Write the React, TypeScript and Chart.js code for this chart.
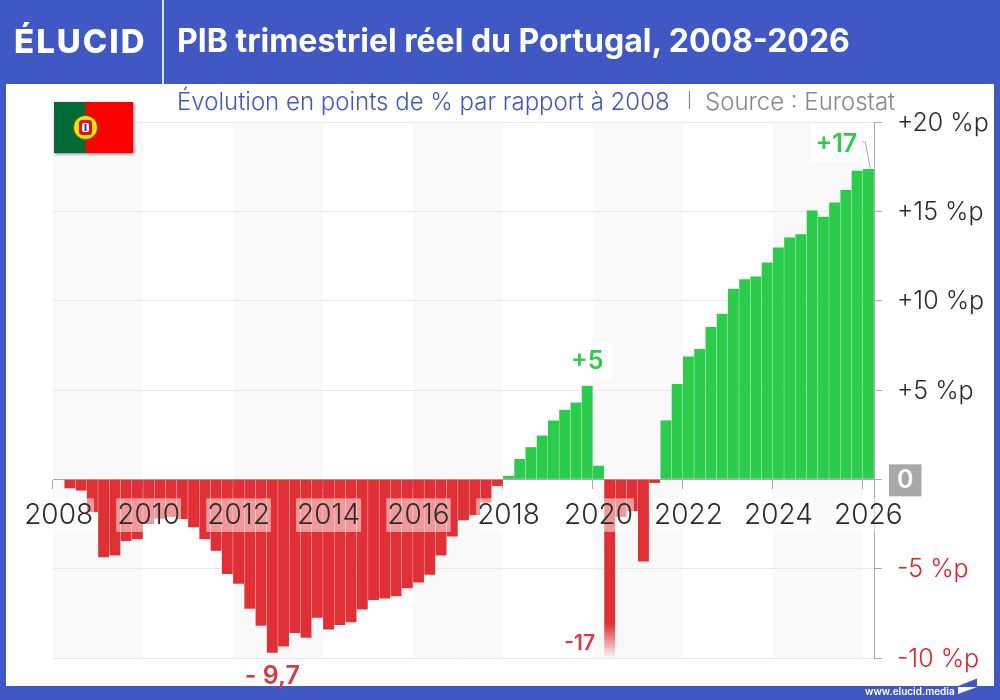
import React, { useEffect, useRef } from 'react';
import { Chart, registerables } from 'chart.js';

Chart.register(...registerables);

const FONT = 'Inter, Lato, sans-serif';
const BLUE = '#3f58c4';
const GREEN = '#2bcb4b';
const RED = '#e13035';
const GRID = '#e9e9e9';
const AXIS = '#a8a8a8';

const years = [2008, 2009, 2010, 2011, 2012, 2013, 2014, 2015, 2016, 2017, 2018, 2019, 2020, 2021, 2022, 2023, 2024, 2025, 2026];
const tickYears = [2008, 2010, 2012, 2014, 2016, 2018, 2020, 2022, 2024, 2026];
const shadedYears = [2008, 2012, 2016, 2020, 2024];

const categories = years
  .flatMap((y) => [`${y} T1`, `${y} T2`, `${y} T3`, `${y} T4`])
  .slice(0, 73);

// points de % par rapport a 2008, un trimestre par valeur
const values = [
  0, -0.5, -0.63, -1.84,
  -4.36, -4.26, -3.45, -3.35,
  -2.5, -2.2, -2.1, -2.23,
  -2.68, -3.35, -4.0, -5.3,
  -5.85, -7.24, -8.2, -9.7,
  -9.35, -8.6, -8.87, -7.75,
  -8.4, -8.15, -8.0, -7.28,
  -6.76, -6.67, -6.54, -6.09,
  -5.77, -5.34, -4.26, -3.2,
  -2.29, -2.0, -1.3, -0.37,
  0.19, 1.14, 1.8, 2.45,
  3.29, 3.89, 4.3, 5.24,
  0.76, -17, -2.1, -1.78,
  -4.6, -0.2, 3.3, 5.34,
  6.87, 7.3, 8.52, 9.27,
  10.67, 11.2, 11.35, 12.13,
  12.97, 13.53, 13.72, 15.05,
  14.7, 15.5, 16.2, 17.27,
  17.37,
];

const isYearTick = (i?: number) => {
  if (i === undefined || !categories[i]) return false;
  const [y, q] = categories[i].split(' T');
  return q === '1' && tickYears.includes(Number(y));
};

// bandes grises une periode sur deux
const bandsPlugin = {
  id: 'bands',
  beforeDraw(chart: any) {
    const { ctx, scales, chartArea } = chart;
    const half = (scales.x.getPixelForValue(1) - scales.x.getPixelForValue(0)) / 2;
    ctx.save();
    ctx.fillStyle = '#f9f9f9';
    shadedYears.forEach((y) => {
      const from = categories.indexOf(`${y} T1`);
      const left = scales.x.getPixelForValue(from) - half;
      const right = scales.x.getPixelForValue(from + 8) - half;
      ctx.fillRect(left, chartArea.top, right - left, chartArea.bottom - chartArea.top);
    });
    ctx.restore();
  },
};

// valeurs remarquables posees a cote des barres
const calloutsPlugin = {
  id: 'callouts',
  afterDraw(chart: any) {
    const { ctx, scales } = chart;
    const put = (cat: string, text: string, color: string, size: number, dx: number, dy: number, box?: number[]) => {
      const i = categories.indexOf(cat);
      const x = scales.x.getPixelForValue(i) + dx;
      const y = scales.y.getPixelForValue(Math.max(values[i], -10)) + dy;
      ctx.save();
      if (box) {
        ctx.fillStyle = 'rgba(255,255,255,0.9)';
        ctx.fillRect(x - box[0], y - box[1], box[0] * 2, box[1] * 2);
      }
      ctx.font = `600 ${size}px ${FONT}`;
      ctx.fillStyle = color;
      ctx.textAlign = 'center';
      ctx.textBaseline = 'middle';
      ctx.fillText(text, x, y + 1);
      ctx.restore();
    };
    put('2026 T1', '+17', GREEN, 25, -32, -26, [25, 19]);
    put('2019 T4', '+5', GREEN, 25, 0, -25, [24, 19]);
    put('2012 T4', '- 9,7', '#d33c46', 25, 0, 23);
    put('2020 T2', '-17', '#d33c46', 21, -30, -15);

    // trait vers la derniere barre
    const last = categories.indexOf('2026 T1');
    const lx = scales.x.getPixelForValue(last);
    const ly = scales.y.getPixelForValue(values[last]);
    ctx.save();
    ctx.strokeStyle = AXIS;
    ctx.lineWidth = 1;
    ctx.beginPath();
    ctx.moveTo(lx - 6, ly - 27);
    ctx.lineTo(lx - 3, ly - 27);
    ctx.lineTo(lx + 2, ly);
    ctx.stroke();
    ctx.restore();
  },
};

const pos: React.CSSProperties = { position: 'absolute', whiteSpace: 'nowrap', fontFamily: FONT };

const App: React.FC = () => {
  const canvasRef = useRef<HTMLCanvasElement | null>(null);

  useEffect(() => {
    const ctx = canvasRef.current?.getContext('2d');
    if (!ctx) return;

    const chart = new Chart(ctx, {
      type: 'bar',
      data: {
        labels: categories,
        datasets: [
          {
            data: values,
            barPercentage: 0.97,
            categoryPercentage: 1,
            backgroundColor: (c: any) => {
              const v = c.raw as number;
              if (v > 0) return GREEN;
              if (v >= -10 || !c.chart.chartArea) return RED;
              // barre coupee en bas de l'axe, elle s'efface
              const y = c.chart.scales.y;
              const g = c.chart.ctx.createLinearGradient(0, y.getPixelForValue(-8.1), 0, y.getPixelForValue(-10));
              g.addColorStop(0, RED);
              g.addColorStop(1, 'rgba(225,48,53,0)');
              return g;
            },
          },
        ],
      },
      options: {
        responsive: false,
        animation: false,
        layout: { padding: { left: 53, top: 122, bottom: 42, right: 0 } },
        plugins: { legend: { display: false }, tooltip: { enabled: false } },
        scales: {
          x: {
            type: 'category',
            position: { y: 0 } as any,
            offset: true,
            afterFit: (s: any) => {
              s.height = 0;
            },
            grid: {
              offset: true,
              drawOnChartArea: false,
              tickLength: 9,
              tickColor: (c: any) => (isYearTick(c.index) ? AXIS : 'rgba(0,0,0,0)'),
            },
            border: { color: AXIS },
            ticks: {
              z: 1,
              autoSkip: false,
              maxRotation: 0,
              padding: 10,
              color: '#2b2b2b',
              font: { family: FONT, size: 28, weight: 300 },
              showLabelBackdrop: (c: any) => isYearTick(c.index),
              backdropColor: 'rgba(255,255,255,0.5)',
              backdropPadding: { left: 1, right: 1, top: 0, bottom: 0 },
              callback: (_v: any, i: number) => (isYearTick(i) ? categories[i].slice(0, 4) : ''),
            },
          },
          y: {
            position: 'right',
            min: -10,
            max: 20,
            afterFit: (s: any) => {
              s.width = 126;
            },
            grid: { color: GRID, tickColor: AXIS, tickLength: 8 },
            border: { color: AXIS },
            ticks: {
              stepSize: 5,
              padding: 15,
              labelOffset: 1,
              color: (c: any) => (c.tick?.value < 0 ? '#e0202a' : c.tick?.value === 0 ? '#ffffff' : '#2b2b2b'),
              font: (c: any) => ({ family: FONT, size: 25, weight: c.tick?.value === 0 ? 600 : 300 }),
              showLabelBackdrop: (c: any) => c.tick?.value === 0,
              backdropColor: '#a8a8a8',
              backdropPadding: { left: 8, right: 8, top: 1, bottom: 1 },
              callback: (v: any) => (v > 0 ? `+${v} %p` : v < 0 ? `${v} %p` : '0'),
            },
          },
        },
      },
      plugins: [bandsPlugin, calloutsPlugin],
    });

    return () => chart.destroy();
  }, []);

  return (
    <div style={{ position: 'fixed', left: 0, top: 0, width: 1000, height: 700, background: BLUE, overflow: 'hidden' }}>
      <div style={{ position: 'absolute', left: 6, top: 84, width: 988, height: 602, background: '#fff' }} />
      <canvas ref={canvasRef} width={1000} height={700} style={{ position: 'absolute', left: 0, top: 0 }} />

      <div style={{ position: 'absolute', left: 162, top: 0, width: 1.5, height: 84, background: '#dfe4f5' }} />
      <span style={{ ...pos, left: 14, top: 21, color: '#fff', fontSize: 33, fontWeight: 800, letterSpacing: 2 }}>ÉLUCID</span>
      <span style={{ ...pos, left: 177, top: 21, color: '#fff', fontSize: 32, fontWeight: 700 }}>PIB trimestriel réel du Portugal, 2008-2026</span>

      <span style={{ ...pos, left: 177, top: 87, color: '#4058bd', fontSize: 24, fontWeight: 300 }}>Évolution en points de % par rapport à 2008</span>
      <span style={{ ...pos, left: 687, top: 90, color: '#888', fontSize: 15 }}>|</span>
      <span style={{ ...pos, left: 705, top: 87, color: '#888', fontSize: 24, fontWeight: 300 }}>Source : Eurostat</span>

      <svg width={79} height={51} style={{ position: 'absolute', left: 54, top: 102, filter: 'drop-shadow(1px 1px 1.5px rgba(0,0,0,0.5))' }} viewBox="0 0 79 51">
        <rect width={79} height={51} fill="#ff0000" />
        <rect width={31.5} height={51} fill="#046a38" />
        <circle cx={31.5} cy={25.5} r={12} fill="#ffe000" stroke="#2a6a20" strokeWidth={0.8} />
        <rect x={25} y={18} width={13} height={15} rx={3} fill="#d8121f" />
        <rect x={28} y={21} width={7} height={9} rx={2} fill="#fff" />
        <rect x={30.5} y={22} width={2} height={7} fill="#2a3f9d" />
      </svg>

      <span style={{ ...pos, left: 865, top: 685, color: '#fff', fontSize: 10, fontWeight: 600 }}>www.elucid.media</span>
      <svg width={24} height={20} style={{ position: 'absolute', left: 956, top: 677 }}>
        <polygon points="2,9 21,1.5 21,9" fill={BLUE} />
        <polygon points="2,10 21,10 2,17" fill="#fff" />
      </svg>
    </div>
  );
};

export default App;
